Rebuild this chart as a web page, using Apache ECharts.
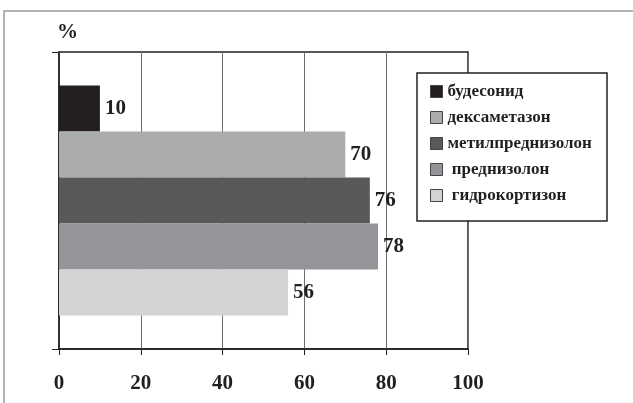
<!DOCTYPE html>
<html>
<head>
<meta charset="utf-8">
<script src="https://cdn.jsdelivr.net/npm/echarts@6/dist/echarts.min.js"></script>
<style>
  html, body { margin: 0; padding: 0; background: #fff; }
  #chart { width: 633px; height: 403px; }
</style>
</head>
<body>
<div id="chart"></div>
<script>
var drugNames = ['будесонид', 'дексаметазон', 'метилпреднизолон', 'преднизолон', 'гидрокортизон'];
var legendLabels = ['будесонид', 'дексаметазон', 'метилпреднизолон', ' преднизолон', ' гидрокортизон'];
var percentValues = [10, 70, 76, 78, 56];
var barColors = ['#231f20', '#abacae', '#58595b', '#939598', '#d1d3d4'];
var xTicks = [0, 20, 40, 60, 80, 100];

var serif = '"Liberation Serif", "DejaVu Serif", serif';

var series = drugNames.map(function (name, i) {
    return {
        name: legendLabels[i],
        type: 'bar',
        barWidth: 46,
        barGap: '0%',
        data: [percentValues[i]],
        itemStyle: { color: barColors[i] },
        label: {
            show: true,
            position: 'right',
            distance: 5,
            fontFamily: serif,
            fontWeight: 'bold',
            fontSize: 21,
            color: '#231f20'
        }
    };
});

var option = {
    animation: false,
    backgroundColor: '#fff',
    graphic: [
        {
            type: 'rect',
            shape: { x: 4, y: 11, width: 700, height: 500 },
            style: { fill: 'none', stroke: '#9a9a9a', lineWidth: 1.5 },
            silent: true
        },
        {
            type: 'text',
            left: 57,
            top: 22,
            style: { text: '%', font: 'bold 21px ' + serif, fill: '#231f20' }
        },
        {
            type: 'rect',
            shape: { x: 417, y: 73, width: 190, height: 148 },
            style: { fill: '#fff', stroke: '#231f20', lineWidth: 1.5 },
            z: 10
        }
    ],
    legend: {
        orient: 'vertical',
        left: 425,
        top: 78,
        z: 20,
        icon: 'rect',
        itemWidth: 12,
        itemHeight: 12,
        itemGap: 9,
        data: legendLabels,
        itemStyle: { borderColor: '#444', borderWidth: 1 },
        textStyle: {
            fontFamily: serif,
            fontWeight: 'bold',
            fontSize: 17,
            lineHeight: 17,
            color: '#231f20'
        }
    },
    grid: {
        left: 59,
        right: 165,
        top: 52,
        bottom: 54,
        show: true,
        borderColor: '#231f20',
        borderWidth: 1.5
    },
    xAxis: {
        type: 'value',
        min: xTicks[0],
        max: xTicks[xTicks.length - 1],
        interval: 20,
        axisLine: { show: true, lineStyle: { color: '#231f20', width: 1.5 } },
        axisTick: { show: true, length: 6, lineStyle: { color: '#231f20' } },
        splitLine: { show: true, lineStyle: { color: '#6d6d6d', width: 1 } },
        axisLabel: {
            margin: 24,
            fontFamily: serif,
            fontWeight: 'bold',
            fontSize: 21,
            color: '#231f20'
        }
    },
    yAxis: {
        type: 'category',
        data: [''],
        inverse: true,
        axisLine: { show: true, lineStyle: { color: '#231f20', width: 1.5 } },
        axisTick: { show: true, length: 7, lineStyle: { color: '#231f20' } },
        axisLabel: { show: false }
    },
    series: series
};

var chart = echarts.init(document.getElementById('chart'));
chart.setOption(option);
</script>
</body>
</html>
